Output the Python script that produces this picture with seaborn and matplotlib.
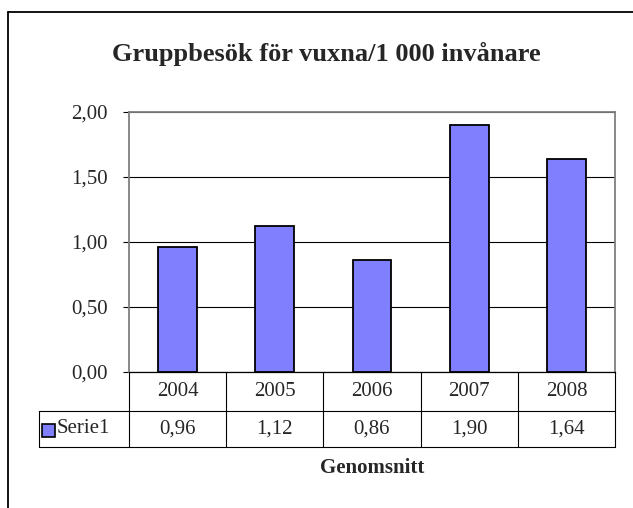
import matplotlib
matplotlib.use("Agg")
import matplotlib.pyplot as plt
import matplotlib.transforms as mtransforms
from matplotlib.lines import Line2D
from matplotlib.patches import Rectangle
from matplotlib.ticker import FuncFormatter, MultipleLocator
import seaborn as sns

# data
years = ["2004", "2005", "2006", "2007", "2008"]
values = [0.96, 1.12, 0.86, 1.90, 1.64]
series_name = "Serie1"
title = "Gruppbesök för vuxna/1 000 invånare"
xlabel = "Genomsnitt"

sns.set_style("white")
plt.rcParams["font.family"] = ["Liberation Serif", "DejaVu Serif"]

W, H = 633, 508
fig = plt.figure(figsize=(W / 100, H / 100), dpi=100)

# plot area in pixels
left, top, right, bottom = 129, 112, 615, 372
ax = fig.add_axes([left / W, 1 - bottom / H, (right - left) / W, (bottom - top) / H])

def comma(v, pos=None):
    return f"{v:.2f}".replace(".", ",")

ax.yaxis.grid(True, color="black", linewidth=0.8)
ax.set_axisbelow(True)
sns.barplot(x=years, y=values, color="#8080FF", saturation=1, width=0.4,
            edgecolor="black", linewidth=1.3, ax=ax)
ax.set_xlim(-0.5, 4.5)
ax.set_ylim(0, 2)
ax.yaxis.set_major_locator(MultipleLocator(0.5))
ax.yaxis.set_major_formatter(FuncFormatter(comma))
ax.tick_params(axis="y", left=True, length=4.5, width=0.8, pad=11, labelsize=15, color="black")
ax.tick_params(axis="x", length=0, labelbottom=False)
ax.set_xlabel("")
ax.set_ylabel("")

for s in ["top", "right"]:
    ax.spines[s].set_color("#808080")
    ax.spines[s].set_linewidth(1.3)
ax.spines["left"].set_color("#808080")
ax.spines["left"].set_linewidth(1.3)
ax.spines["bottom"].set_color("black")
ax.spines["bottom"].set_linewidth(0.9)

# data table under the plot
ph = bottom - top
pw = right - left
r1 = -(410.7 - bottom) / ph
r2 = -(447 - bottom) / ph
hx = (39 - left) / pw
trans = mtransforms.blended_transform_factory(ax.transData, ax.transAxes)
lc = dict(color="black", linewidth=0.8, clip_on=False)

ax.add_line(Line2D([hx, 1], [r1, r1], transform=ax.transAxes, **lc))
ax.add_line(Line2D([hx, 1], [r2, r2], transform=ax.transAxes, **lc))
ax.add_line(Line2D([hx, hx], [r1, r2], transform=ax.transAxes, **lc))
for i in range(len(years) + 1):
    ax.add_line(Line2D([i - 0.5, i - 0.5], [0, r2], transform=trans, **lc))

for i, (yr, v) in enumerate(zip(years, values)):
    ax.text(i, r1 / 2, yr, transform=trans, ha="center", va="center", fontsize=15)
    ax.text(i, (r1 + r2) / 2, comma(v), transform=trans, ha="center", va="center", fontsize=15)

ax.add_patch(Rectangle(((42 - left) / pw, -(437 - bottom) / ph), 13 / pw, 13 / ph,
                       transform=ax.transAxes, facecolor="#8080FF", edgecolor="black",
                       linewidth=1.2, clip_on=False))
ax.text((57 - left) / pw, (r1 + r2) / 2, series_name, transform=ax.transAxes,
        ha="left", va="center", fontsize=15)

ax.text(0.5, -(473 - bottom) / ph, xlabel, transform=ax.transAxes, ha="center",
        va="baseline", fontsize=15, fontweight="bold")

fig.text(326.5 / W, 1 - 61 / H, title, ha="center", va="baseline", fontsize=19,
         fontweight="bold")

# chart area border (runs off the right and bottom edges)
fig.add_artist(Line2D([8 / W, 1.01], [1 - 12 / H, 1 - 12 / H], transform=fig.transFigure,
                      color="black", linewidth=1.3))
fig.add_artist(Line2D([8 / W, 8 / W], [1 - 12 / H, -0.01], transform=fig.transFigure,
                      color="black", linewidth=1.3))

fig.savefig("out.png", dpi=100)
